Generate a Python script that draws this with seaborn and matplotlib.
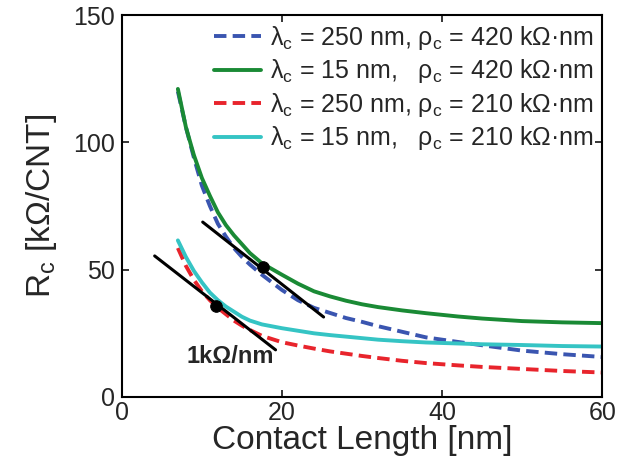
import numpy as np
import pandas as pd
import matplotlib
matplotlib.use("Agg")
import matplotlib.pyplot as plt
import seaborn as sns

sns.set_style("white")
plt.rcParams['font.family'] = ['Liberation Sans', 'DejaVu Sans']
plt.rcParams['mathtext.fontset'] = 'custom'
plt.rcParams['mathtext.rm'] = 'Liberation Sans'
plt.rcParams['mathtext.it'] = 'Liberation Sans'

# contact length [nm]
length_nm = [7, 8, 9, 10, 11, 12, 13, 14, 15, 16, 17.5, 20, 22, 24, 26, 28, 30, 32,
             35, 38, 42, 45, 50, 55, 60]

# R_c [kOhm/CNT]
rc_250_420 = [120, 106, 94, 83, 75, 68, 63, 58.5, 55, 52, 48, 42, 38, 35, 33, 31, 29.5, 27.8,
              25.6, 23.4, 21.6, 20.3, 18.2, 16.8, 15.7]
rc_15_420 = [121, 106, 95, 86, 79, 72.5, 67.5, 63.5, 60, 56.5, 52.5, 48, 44.5, 41.5, 39.5, 37.8, 36.4, 35.3,
             34, 32.9, 31.6, 30.8, 29.8, 29.3, 29]
rc_250_210 = [58.5, 51.5, 46, 41.5, 38, 35, 32.5, 30, 28, 26.3, 24, 21.5, 20.2, 19, 17.9, 17, 16.1, 15.3,
              14.2, 13.3, 12.4, 11.8, 11, 10.2, 9.6]
rc_15_210 = [61.5, 55, 49.5, 45, 41, 38, 35.5, 33.5, 31.5, 30, 28.5, 27, 26, 25, 24.3, 23.7, 23.1, 22.5,
             21.9, 21.4, 21, 20.7, 20.4, 20, 19.8]

labels = [
    r"λ$_\mathrm{c}$ = 250 nm, ρ$_\mathrm{c}$ = 420 kΩ·nm",
    r"λ$_\mathrm{c}$ = 15 nm,   ρ$_\mathrm{c}$ = 420 kΩ·nm",
    r"λ$_\mathrm{c}$ = 250 nm, ρ$_\mathrm{c}$ = 210 kΩ·nm",
    r"λ$_\mathrm{c}$ = 15 nm,   ρ$_\mathrm{c}$ = 210 kΩ·nm",
]
colors = ["#3a55b0", "#1a8a35", "#e8242c", "#35c4c4"]
dashed = [True, False, True, False]

# tangent lines (slope markers) and touch points
tan_upper_x = [10.1, 25.2]
tan_upper_y = [68.7, 31.4]
tan_lower_x = [4.1, 19.2]
tan_lower_y = [55.4, 18.5]
dot_x = [17.6, 11.75]
dot_y = [51, 35.7]

series = [rc_250_420, rc_15_420, rc_250_210, rc_15_210]

fig = plt.figure(figsize=(6.28, 4.72), dpi=100)
ax = fig.add_axes([0.194, 0.159, 0.765, 0.809])

for vals, lab, col, dsh in zip(series, labels, colors, dashed):
    df = pd.DataFrame({"L": length_nm, "R": vals})
    sns.lineplot(data=df, x="L", y="R", ax=ax, color=col, lw=2.8, label=lab)
    line = ax.lines[-1]
    line.set_solid_joinstyle("round")
    if dsh:
        line.set_dashes((3.2, 1.6))

ax.plot(tan_upper_x, tan_upper_y, color="black", lw=2.2)
ax.plot(tan_lower_x, tan_lower_y, color="black", lw=2.2)
sns.scatterplot(x=dot_x, y=dot_y, ax=ax, color="black", s=70, zorder=5, edgecolor="black")
ax.text(13.6, 15.7, "1kΩ/nm", fontsize=17, fontweight="bold", ha="center", va="center")

ax.set_xlim(0, 60)
ax.set_ylim(0, 150)
ax.set_xticks([0, 20, 40, 60])
ax.set_yticks([0, 50, 100, 150])
ax.tick_params(direction="in", length=5, width=1.3, labelsize=18, top=True, right=True,
               bottom=True, left=True)
ax.tick_params(axis="y", pad=5)
ax.tick_params(axis="x", pad=3)
for sp in ax.spines.values():
    sp.set_linewidth(1.5)
    sp.set_color("black")

ax.set_xlabel("Contact Length [nm]", fontsize=24, labelpad=0)
ax.set_ylabel(r"R$_\mathrm{c}$ [kΩ/CNT]", fontsize=24, labelpad=10)

leg = ax.legend(loc="upper right", frameon=False, fontsize=18, handlelength=1.9,
                handletextpad=0.35, labelspacing=0.22, borderaxespad=0.05, borderpad=0.3)

fig.savefig("out.png", dpi=100)
